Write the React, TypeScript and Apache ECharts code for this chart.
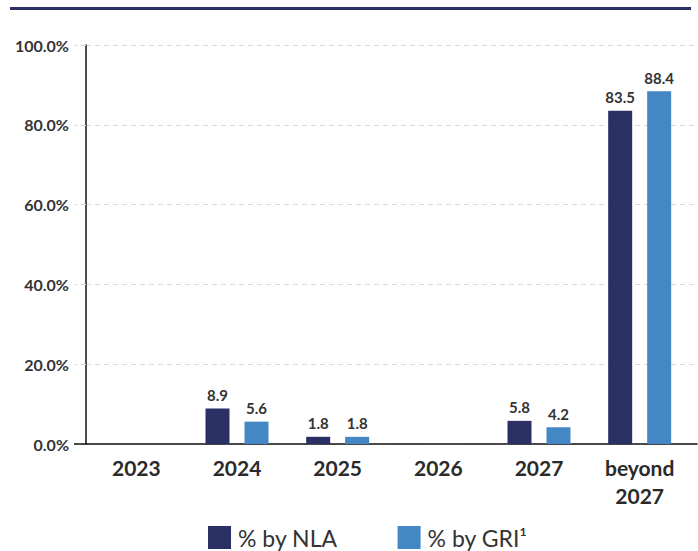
import React, { useEffect, useRef } from "react";
import * as echarts from "echarts";

const categories = ["2023", "2024", "2025", "2026", "2027", "beyond\n2027"];
const nlaValues: (number | null)[] = [null, 8.9, 1.8, null, 5.8, 83.5];
const griValues: (number | null)[] = [null, 5.6, 1.8, null, 4.2, 88.4];
const seriesNames = ["% by NLA", "% by GRI¹"];
const yTicks = { min: 0, max: 100, interval: 20 };

const NAVY = "#2a3064";
const BLUE = "#4487c5";
const FONT = "Lato";

export default function App() {
  const ref = useRef<HTMLDivElement>(null);
  useEffect(() => {
    document.body.style.margin = "0";
    const chart = echarts.init(ref.current!, null, { renderer: "svg" });
    const labelStyle = {
      show: true,
      position: "top" as const,
      distance: 6,
      fontFamily: FONT,
      fontWeight: "bold" as const,
      fontSize: 15,
      color: "#333",
      formatter: (p: any) => (p.value == null ? "" : p.value.toFixed(1)),
    };
    chart.setOption({
      animation: false,
      backgroundColor: "#fff",
      textStyle: { fontFamily: FONT },
      graphic: [
        {
          type: "rect",
          left: 10,
          top: 7,
          shape: { width: 681, height: 3 },
          style: { fill: NAVY },
        },
      ],
      grid: [
        { left: 86, right: 8, top: 45, bottom: 107, containLabel: false },
        { left: 86, right: 1, top: 45, bottom: 107, containLabel: false },
      ],
      legend: {
        top: 526,
        left: 208,
        padding: 0,
        itemWidth: 23,
        itemHeight: 23,
        itemGap: 60,
        icon: "rect",
        textStyle: {
          fontFamily: FONT,
          fontSize: 23,
          lineHeight: 23,
          color: "#333",
          padding: [0, 0, 0, 2],
        },
        data: seriesNames,
      },
      xAxis: [
        {
          type: "category",
          gridIndex: 0,
          data: categories,
          axisLine: { show: false },
          axisTick: { show: false },
          axisLabel: {
            fontFamily: FONT,
            fontWeight: "bold",
            fontSize: 21,
            color: "#2a2a2a",
            lineHeight: 28,
            margin: 9,
            interval: 0,
          },
        },
        {
          type: "value",
          gridIndex: 1,
          min: 0,
          max: 1,
          axisLine: { show: true, onZero: false, lineStyle: { color: "#111", width: 1.5 } },
          axisTick: { show: false },
          axisLabel: { show: false },
          splitLine: { show: false },
        },
      ],
      yAxis: [
        {
          type: "value",
          gridIndex: 0,
          min: yTicks.min,
          max: yTicks.max,
          interval: yTicks.interval,
          axisLine: { show: true, lineStyle: { color: "#111", width: 1.5 } },
          axisTick: {
            show: true,
            length: 12,
            lineStyle: { color: "#d9d9d9", type: [5, 4] },
          },
          splitLine: { show: false },
          axisLabel: {
            fontFamily: FONT,
            fontWeight: "bold",
            fontSize: 16,
            color: "#333",
            margin: 17,
            formatter: (v: number) => v.toFixed(1) + "%",
          },
        },
        {
          type: "value",
          gridIndex: 0,
          position: "left",
          min: yTicks.min,
          max: yTicks.max,
          interval: yTicks.interval,
          axisLine: { show: false },
          axisLabel: { show: false },
          splitLine: { show: false },
          axisTick: {
            show: true,
            length: 12,
            customValues: [0],
            lineStyle: { color: "#111", width: 1.5 },
          },
        },
        {
          type: "value",
          gridIndex: 1,
          min: yTicks.min,
          max: yTicks.max,
          interval: yTicks.interval,
          axisLine: { show: false },
          axisTick: { show: false },
          axisLabel: { show: false },
          splitLine: { show: true, lineStyle: { color: "#d9d9d9", type: [5, 4] } },
        },
      ],
      series: [
        {
          name: seriesNames[0],
          type: "bar",
          xAxisIndex: 0,
          yAxisIndex: 0,
          data: nlaValues,
          barWidth: 24,
          barGap: "62.5%",
          itemStyle: { color: NAVY },
          label: labelStyle,
          z: 3,
        },
        {
          name: seriesNames[1],
          type: "bar",
          xAxisIndex: 0,
          yAxisIndex: 0,
          data: griValues,
          barWidth: 24,
          itemStyle: { color: BLUE },
          label: labelStyle,
          z: 3,
        },
      ],
    });
    return () => chart.dispose();
  }, []);
  return <div ref={ref} style={{ width: 698, height: 551 }} />;
}
